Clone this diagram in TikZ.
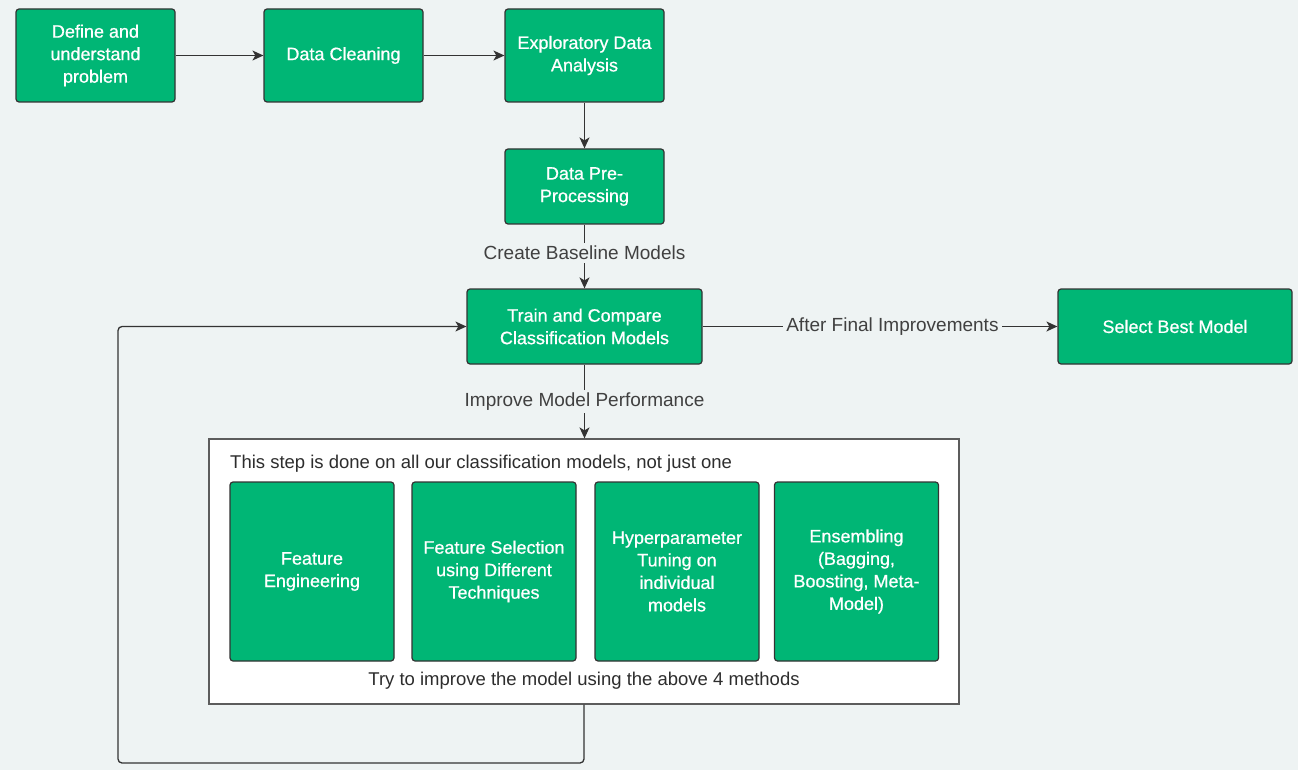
\documentclass[tikz,border=0pt]{standalone}
\usepackage{fontspec}
\setmainfont{Liberation Sans}
\newfontfamily\boxfont[FakeBold=0.7]{Liberation Sans}
\usetikzlibrary{arrows.meta}
\definecolor{bg}{RGB}{238,243,243}
\definecolor{grn}{RGB}{0,182,117}
\definecolor{edge}{RGB}{51,51,51}
\definecolor{lbl}{RGB}{64,64,64}
\tikzset{
  gbox/.style={draw=edge, line width=1.2pt, fill=grn, rounded corners=3pt, text=white,
    align=center, inner sep=0pt, font=\boxfont\fontsize{18}{22.5}\selectfont},
  conn/.style={draw=edge, line width=1.3pt, -{Stealth[length=11pt,width=10pt,inset=3pt]}},
  lab/.style={fill=bg, text=lbl, inner sep=3pt, font=\fontsize{19}{23}\selectfont},
  plain/.style={text=lbl!70!black, inner sep=0pt, font=\fontsize{18.5}{23}\selectfont}
}
\begin{document}
\begin{tikzpicture}[x=1pt,y=-1pt]
\fill[bg] (0,0) rectangle (1298,770);
\useasboundingbox (0,0) rectangle (1298,770);
\node[gbox, minimum width=159pt, minimum height=93pt] (b1) at (95.5,55.5) {Define and\\understand\\problem};
\node[gbox, minimum width=159pt, minimum height=93pt] (b2) at (343.5,55.5) {Data Cleaning};
\node[gbox, minimum width=159pt, minimum height=93pt] (b3) at (584.5,55.5) {Exploratory Data\\Analysis};
\node[gbox, minimum width=159pt, minimum height=75pt] (b4) at (584.5,186.5) {Data Pre-\\Processing};
\node[gbox, minimum width=235pt, minimum height=75pt] (b5) at (584.5,326.5) {Train and Compare\\Classification Models};
\node[gbox, minimum width=234pt, minimum height=75pt] (b6) at (1175,326.5) {Select Best Model};
\node[draw=edge!80, line width=1.2pt, fill=white, minimum width=750pt, minimum height=265pt, inner sep=0pt] (wr) at (584,571.5) {};
\node[plain, anchor=west] (t1) at (230,464) {This step is done on all our classification models, not just one};
\node[plain] (t2) at (584,681) {Try to improve the model using the above 4 methods};
\node[gbox, minimum width=164pt, minimum height=179pt] (i1) at (312,571.5) {Feature\\Engineering};
\node[gbox, minimum width=164pt, minimum height=179pt] (i2) at (494,571.5) {Feature Selection\\using Different\\Techniques};
\node[gbox, minimum width=164pt, minimum height=179pt] (i3) at (677,571.5) {Hyperparameter\\Tuning on\\individual\\models};
\node[gbox, minimum width=164pt, minimum height=179pt] (i4) at (856.5,571.5) {Ensembling\\(Bagging,\\Boosting, Meta-\\Model)};
\draw[conn] (b1) -- (b2);
\draw[conn] (b2) -- (b3);
\draw[conn] (b3) -- (b4);
\draw[conn] (b4) -- node[lab, pos=0.44] {Create Baseline Models} (b5);
\draw[conn] (b5) -- node[lab, pos=0.535] {After Final Improvements} (b6);
\draw[conn] (b5) -- node[lab] {Improve Model Performance} (wr.north -| b5);
\coordinate (c1) at (584,763);
\coordinate (c2) at (118,763);
\coordinate (c3) at (118,326.5);
\draw[conn, rounded corners=4pt] (wr.south) -- (c1) -- (c2) -- (c3) -- (b5.west);
\end{tikzpicture}
\end{document}
